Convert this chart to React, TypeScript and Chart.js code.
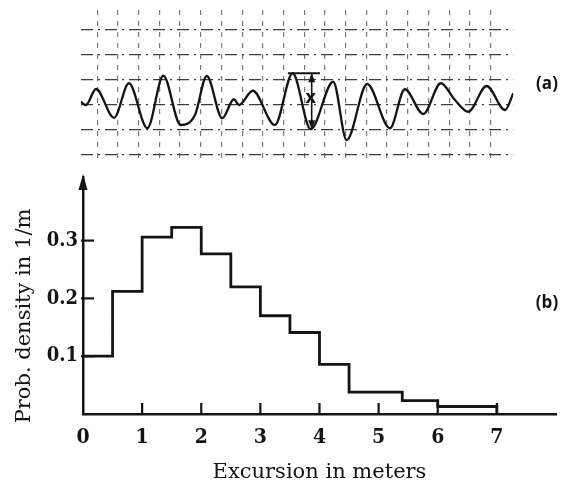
import React, { useEffect, useRef } from "react";
import { Chart, registerables } from "chart.js";

Chart.register(...registerables);

// ---------- Panel (a): wave record (time and elevation in grid divisions) ----------
const waveTime = [-0.8, -0.55, -0.06, 0.81, 1.53, 2.42, 3.19, 4.03, 4.72, 5.29, 6.04, 6.6, 6.85, 7.51, 8.58, 9.44, 10.31, 11.4, 12.05, 13.04, 14.14, 14.86, 15.75, 16.6, 17.28, 17.92, 18.81, 19.7, 20.1];
const waveHeight = [0.13, 0.0, 0.64, -0.51, 0.87, -0.93, 1.17, -0.8, -0.4, 1.16, -0.53, 0.23, 0.0, 0.57, -0.8, 1.27, -0.97, 0.93, -1.4, 0.84, -0.93, 0.63, -0.36, 0.87, 0.2, -0.27, 0.76, -0.2, 0.47];
const gridTimes = [0, 1, 2, 3, 4, 5, 6, 7, 8, 9, 10, 11, 12, 13, 14, 15, 16, 17, 18, 19];
const gridLevels = [-2, -1, 0, 1, 2, 3];
// excursion marker "x": crest bar span, arrow time, crest and trough levels
const markBarTimes = [9.21, 10.76];
const markArrowTime = 10.36;
const markCrest = 1.27;
const markTrough = -0.97;

// ---------- Panel (b): histogram ----------
const binEdges = [0, 0.5, 1, 1.5, 2, 2.5, 3, 3.5, 4, 4.5, 5.4, 6, 7];
const density = [0.1, 0.212, 0.306, 0.323, 0.277, 0.22, 0.17, 0.141, 0.086, 0.038, 0.023, 0.013];
const xTickValues = [0, 1, 2, 3, 4, 5, 6, 7];
const yTickValues = [0.1, 0.2, 0.3];

const INK = "#141414";
const GRID_H = "#3c3c3c";
const GRID_V = "#7a7a7a";
const SERIF = "'DejaVu Serif', serif";
const SERIF_BOLD_FAMILY = "'DejaVu Serif Condensed', 'DejaVu Serif', serif";

const topDecor = {
  id: "topDecor",
  afterDatasetsDraw(chart: any) {
    const { ctx, scales } = chart;
    const xs = scales.x, ys = scales.y;
    const ax = xs.getPixelForValue(markArrowTime);
    const yTop = ys.getPixelForValue(markCrest);
    const yBot = ys.getPixelForValue(markTrough);
    ctx.save();
    ctx.fillStyle = INK;
    ctx.beginPath();
    ctx.moveTo(ax, yTop);
    ctx.lineTo(ax - 3.5, yTop + 9);
    ctx.lineTo(ax + 3.5, yTop + 9);
    ctx.closePath();
    ctx.fill();
    ctx.beginPath();
    ctx.moveTo(ax, yBot);
    ctx.lineTo(ax - 3.5, yBot - 9);
    ctx.lineTo(ax + 3.5, yBot - 9);
    ctx.closePath();
    ctx.fill();
    ctx.font = "bold 17px 'DejaVu Sans', sans-serif";
    ctx.textAlign = "center";
    ctx.textBaseline = "middle";
    ctx.fillText("x", ax - 1, ys.getPixelForValue(0.27));
    ctx.restore();
  },
};

const bottomDecor = {
  id: "bottomDecor",
  afterDraw(chart: any) {
    const { ctx, chartArea, scales } = chart;
    const xs = scales.x, ys = scales.y;
    ctx.save();
    ctx.strokeStyle = INK;
    ctx.lineWidth = 2.2;
    xTickValues.forEach((v) => {
      if (v === 0) return;
      const px = xs.getPixelForValue(v);
      ctx.beginPath();
      ctx.moveTo(px, chartArea.bottom);
      ctx.lineTo(px, chartArea.bottom - 11);
      ctx.stroke();
    });
    yTickValues.forEach((v) => {
      const py = ys.getPixelForValue(v);
      ctx.beginPath();
      ctx.moveTo(chartArea.left - 2, py);
      ctx.lineTo(chartArea.left + 11, py);
      ctx.stroke();
    });
    // arrow head on the y axis
    ctx.fillStyle = INK;
    ctx.beginPath();
    ctx.moveTo(chartArea.left, chartArea.top - 3);
    ctx.lineTo(chartArea.left - 4.5, chartArea.top + 13);
    ctx.lineTo(chartArea.left + 4.5, chartArea.top + 13);
    ctx.closePath();
    ctx.fill();
    // titles
    ctx.font = "21px " + SERIF;
    ctx.textAlign = "center";
    ctx.textBaseline = "alphabetic";
    ctx.fillText("Excursion in meters", (chartArea.left + chartArea.right) / 2, 478);
    ctx.save();
    ctx.translate(25, 316);
    ctx.rotate(-Math.PI / 2);
    ctx.textBaseline = "middle";
    ctx.fillText("Prob. density in 1/m", 0, 0);
    ctx.restore();
    ctx.font = "bold 17px 'Open Sans', sans-serif";
    ctx.textBaseline = "middle";
    ctx.fillText("(a)", 547, 84);
    ctx.fillText("(b)", 547, 303);
    ctx.restore();
  },
};

export default function App() {
  const topRef = useRef<HTMLCanvasElement>(null);
  const botRef = useRef<HTMLCanvasElement>(null);

  useEffect(() => {
    const wave = waveTime.map((t, i) => ({ x: t, y: waveHeight[i] }));
    const bar = markBarTimes.map((t) => ({ x: t, y: markCrest }));
    const arrow = [
      { x: markArrowTime, y: markCrest },
      { x: markArrowTime, y: markTrough },
    ];
    const top = new Chart(topRef.current as HTMLCanvasElement, {
      type: "line",
      data: {
        datasets: [
          { data: wave, borderColor: INK, borderWidth: 2.3, pointRadius: 0, cubicInterpolationMode: "monotone", fill: false } as any,
          { data: bar, borderColor: INK, borderWidth: 1.8, pointRadius: 0, fill: false },
          { data: arrow, borderColor: INK, borderWidth: 1.6, pointRadius: 0, fill: false },
        ],
      },
      options: {
        animation: false,
        responsive: false,
        devicePixelRatio: 1,
        layout: { padding: { left: 80.7, right: 49.7, top: 10, bottom: 8 } },
        plugins: { legend: { display: false }, tooltip: { enabled: false } },
        scales: {
          x: {
            type: "linear",
            min: -0.8,
            max: 20.1,
            afterBuildTicks: (a: any) => { a.ticks = gridTimes.map((v) => ({ value: v })); },
            afterFit: (s: any) => { s.height = 0; },
            ticks: { display: false },
            grid: { color: GRID_V, lineWidth: 1.2, drawTicks: false },
            border: { display: false, dash: [5, 6] },
          },
          y: {
            type: "linear",
            min: -2.28,
            max: 3.8,
            afterBuildTicks: (a: any) => { a.ticks = gridLevels.map((v) => ({ value: v })); },
            afterFit: (s: any) => { s.width = 0; },
            ticks: { display: false },
            grid: { color: GRID_H, lineWidth: 1.3, drawTicks: false },
            border: { display: false, dash: [12, 5, 2, 5] },
          },
        },
      } as any,
      plugins: [topDecor],
    });

    const hist = binEdges.map((e, i) => ({ x: e, y: i < density.length ? density[i] : density[density.length - 1] }));
    hist.push({ x: binEdges[binEdges.length - 1], y: 0 });

    const bottom = new Chart(botRef.current as HTMLCanvasElement, {
      type: "line",
      data: {
        datasets: [
          { data: hist, stepped: "before", borderColor: INK, borderWidth: 2.8, pointRadius: 0, fill: false } as any,
        ],
      },
      options: {
        animation: false,
        responsive: false,
        devicePixelRatio: 1,
        layout: { padding: { left: 0, right: 7, top: 177, bottom: 0 } },
        plugins: { legend: { display: false }, tooltip: { enabled: false } },
        scales: {
          x: {
            type: "linear",
            min: 0,
            max: 8,
            afterBuildTicks: (a: any) => { a.ticks = xTickValues.map((v) => ({ value: v })); },
            afterFit: (s: any) => { s.height = 66; },
            grid: { drawOnChartArea: false, drawTicks: false },
            border: { display: true, color: INK, width: 2.5 },
            ticks: {
              color: INK,
              padding: 11,
              autoSkip: false,
              maxRotation: 0,
              font: { family: SERIF_BOLD_FAMILY, size: 21, weight: "bold" },
              callback: (v: any) => String(v),
            },
          },
          y: {
            type: "linear",
            min: 0,
            max: 0.41,
            afterBuildTicks: (a: any) => { a.ticks = yTickValues.map((v) => ({ value: v })); },
            afterFit: (s: any) => { s.width = 83; },
            grid: { drawOnChartArea: false, drawTicks: false },
            border: { display: true, color: INK, width: 2.5 },
            ticks: {
              color: INK,
              padding: 5,
              font: { family: SERIF_BOLD_FAMILY, size: 20, weight: "bold" },
              callback: (v: any) => Number(v).toFixed(1),
            },
          },
        },
      } as any,
      plugins: [bottomDecor],
    });

    return () => {
      top.destroy();
      bottom.destroy();
    };
  }, []);

  return (
    <div style={{ position: "fixed", left: 0, top: 0, width: 563, height: 480, background: "#fff", overflow: "hidden" }}>
      <canvas ref={botRef} width={563} height={480} style={{ position: "absolute", left: 0, top: 0 }} />
      <canvas ref={topRef} width={563} height={170} style={{ position: "absolute", left: 0, top: 0 }} />
    </div>
  );
}
